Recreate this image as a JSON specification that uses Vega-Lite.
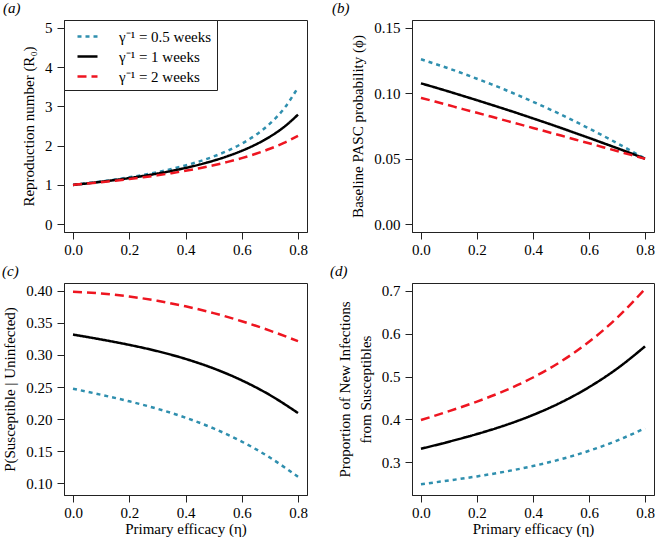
{
  "$schema": "https://vega.github.io/schema/vega-lite/v6.json",
  "padding": {"left": 1, "top": 0, "right": 0, "bottom": 0},
  "background": "white",
  "datasets": {
    "a": [
      {"eta":0,"gamma":"γ⁻¹ = 0.5 weeks","value":1.0},{"eta":0.05,"gamma":"γ⁻¹ = 0.5 weeks","value":1.0413},{"eta":0.1,"gamma":"γ⁻¹ = 0.5 weeks","value":1.0867},{"eta":0.15,"gamma":"γ⁻¹ = 0.5 weeks","value":1.1368},{"eta":0.2,"gamma":"γ⁻¹ = 0.5 weeks","value":1.1923},{"eta":0.25,"gamma":"γ⁻¹ = 0.5 weeks","value":1.2544},{"eta":0.3,"gamma":"γ⁻¹ = 0.5 weeks","value":1.3243},{"eta":0.35,"gamma":"γ⁻¹ = 0.5 weeks","value":1.4036},{"eta":0.4,"gamma":"γ⁻¹ = 0.5 weeks","value":1.495},{"eta":0.45,"gamma":"γ⁻¹ = 0.5 weeks","value":1.5997},{"eta":0.5,"gamma":"γ⁻¹ = 0.5 weeks","value":1.7233},{"eta":0.55,"gamma":"γ⁻¹ = 0.5 weeks","value":1.8705},{"eta":0.6,"gamma":"γ⁻¹ = 0.5 weeks","value":2.05},{"eta":0.65,"gamma":"γ⁻¹ = 0.5 weeks","value":2.2723},{"eta":0.7,"gamma":"γ⁻¹ = 0.5 weeks","value":2.56},{"eta":0.75,"gamma":"γ⁻¹ = 0.5 weeks","value":2.94},{"eta":0.8,"gamma":"γ⁻¹ = 0.5 weeks","value":3.48},
      {"eta":0,"gamma":"γ⁻¹ = 1 weeks","value":1.0},{"eta":0.05,"gamma":"γ⁻¹ = 1 weeks","value":1.0377},{"eta":0.1,"gamma":"γ⁻¹ = 1 weeks","value":1.0787},{"eta":0.15,"gamma":"γ⁻¹ = 1 weeks","value":1.1236},{"eta":0.2,"gamma":"γ⁻¹ = 1 weeks","value":1.1729},{"eta":0.25,"gamma":"γ⁻¹ = 1 weeks","value":1.2273},{"eta":0.3,"gamma":"γ⁻¹ = 1 weeks","value":1.2878},{"eta":0.35,"gamma":"γ⁻¹ = 1 weeks","value":1.3554},{"eta":0.4,"gamma":"γ⁻¹ = 1 weeks","value":1.4316},{"eta":0.45,"gamma":"γ⁻¹ = 1 weeks","value":1.518},{"eta":0.5,"gamma":"γ⁻¹ = 1 weeks","value":1.617},{"eta":0.55,"gamma":"γ⁻¹ = 1 weeks","value":1.7325},{"eta":0.6,"gamma":"γ⁻¹ = 1 weeks","value":1.868},{"eta":0.65,"gamma":"γ⁻¹ = 1 weeks","value":2.0296},{"eta":0.7,"gamma":"γ⁻¹ = 1 weeks","value":2.227},{"eta":0.75,"gamma":"γ⁻¹ = 1 weeks","value":2.473},{"eta":0.8,"gamma":"γ⁻¹ = 1 weeks","value":2.79},
      {"eta":0,"gamma":"γ⁻¹ = 2 weeks","value":1.0},{"eta":0.05,"gamma":"γ⁻¹ = 2 weeks","value":1.033},{"eta":0.1,"gamma":"γ⁻¹ = 2 weeks","value":1.0686},{"eta":0.15,"gamma":"γ⁻¹ = 2 weeks","value":1.1071},{"eta":0.2,"gamma":"γ⁻¹ = 2 weeks","value":1.1489},{"eta":0.25,"gamma":"γ⁻¹ = 2 weeks","value":1.1944},{"eta":0.3,"gamma":"γ⁻¹ = 2 weeks","value":1.2441},{"eta":0.35,"gamma":"γ⁻¹ = 2 weeks","value":1.2988},{"eta":0.4,"gamma":"γ⁻¹ = 2 weeks","value":1.359},{"eta":0.45,"gamma":"γ⁻¹ = 2 weeks","value":1.4262},{"eta":0.5,"gamma":"γ⁻¹ = 2 weeks","value":1.5012},{"eta":0.55,"gamma":"γ⁻¹ = 2 weeks","value":1.5857},{"eta":0.6,"gamma":"γ⁻¹ = 2 weeks","value":1.682},{"eta":0.65,"gamma":"γ⁻¹ = 2 weeks","value":1.792},{"eta":0.7,"gamma":"γ⁻¹ = 2 weeks","value":1.92},{"eta":0.75,"gamma":"γ⁻¹ = 2 weeks","value":2.0702},{"eta":0.8,"gamma":"γ⁻¹ = 2 weeks","value":2.25}
    ],
    "b": [
      {"eta":0,"gamma":"γ⁻¹ = 0.5 weeks","value":0.126},{"eta":0.05,"gamma":"γ⁻¹ = 0.5 weeks","value":0.1225},{"eta":0.1,"gamma":"γ⁻¹ = 0.5 weeks","value":0.1189},{"eta":0.15,"gamma":"γ⁻¹ = 0.5 weeks","value":0.1151},{"eta":0.2,"gamma":"γ⁻¹ = 0.5 weeks","value":0.1111},{"eta":0.25,"gamma":"γ⁻¹ = 0.5 weeks","value":0.107},{"eta":0.3,"gamma":"γ⁻¹ = 0.5 weeks","value":0.1027},{"eta":0.35,"gamma":"γ⁻¹ = 0.5 weeks","value":0.0982},{"eta":0.4,"gamma":"γ⁻¹ = 0.5 weeks","value":0.0935},{"eta":0.45,"gamma":"γ⁻¹ = 0.5 weeks","value":0.0887},{"eta":0.5,"gamma":"γ⁻¹ = 0.5 weeks","value":0.0837},{"eta":0.55,"gamma":"γ⁻¹ = 0.5 weeks","value":0.0785},{"eta":0.6,"gamma":"γ⁻¹ = 0.5 weeks","value":0.0731},{"eta":0.65,"gamma":"γ⁻¹ = 0.5 weeks","value":0.0676},{"eta":0.7,"gamma":"γ⁻¹ = 0.5 weeks","value":0.0619},{"eta":0.75,"gamma":"γ⁻¹ = 0.5 weeks","value":0.056},{"eta":0.8,"gamma":"γ⁻¹ = 0.5 weeks","value":0.05},
      {"eta":0,"gamma":"γ⁻¹ = 1 weeks","value":0.1076},{"eta":0.05,"gamma":"γ⁻¹ = 1 weeks","value":0.1045},{"eta":0.1,"gamma":"γ⁻¹ = 1 weeks","value":0.1013},{"eta":0.15,"gamma":"γ⁻¹ = 1 weeks","value":0.098},{"eta":0.2,"gamma":"γ⁻¹ = 1 weeks","value":0.0947},{"eta":0.25,"gamma":"γ⁻¹ = 1 weeks","value":0.0913},{"eta":0.3,"gamma":"γ⁻¹ = 1 weeks","value":0.0879},{"eta":0.35,"gamma":"γ⁻¹ = 1 weeks","value":0.0844},{"eta":0.4,"gamma":"γ⁻¹ = 1 weeks","value":0.0808},{"eta":0.45,"gamma":"γ⁻¹ = 1 weeks","value":0.0772},{"eta":0.5,"gamma":"γ⁻¹ = 1 weeks","value":0.0735},{"eta":0.55,"gamma":"γ⁻¹ = 1 weeks","value":0.0697},{"eta":0.6,"gamma":"γ⁻¹ = 1 weeks","value":0.0659},{"eta":0.65,"gamma":"γ⁻¹ = 1 weeks","value":0.062},{"eta":0.7,"gamma":"γ⁻¹ = 1 weeks","value":0.0581},{"eta":0.75,"gamma":"γ⁻¹ = 1 weeks","value":0.0541},{"eta":0.8,"gamma":"γ⁻¹ = 1 weeks","value":0.05},
      {"eta":0,"gamma":"γ⁻¹ = 2 weeks","value":0.0965},{"eta":0.05,"gamma":"γ⁻¹ = 2 weeks","value":0.0937},{"eta":0.1,"gamma":"γ⁻¹ = 2 weeks","value":0.0908},{"eta":0.15,"gamma":"γ⁻¹ = 2 weeks","value":0.0879},{"eta":0.2,"gamma":"γ⁻¹ = 2 weeks","value":0.0851},{"eta":0.25,"gamma":"γ⁻¹ = 2 weeks","value":0.0822},{"eta":0.3,"gamma":"γ⁻¹ = 2 weeks","value":0.0793},{"eta":0.35,"gamma":"γ⁻¹ = 2 weeks","value":0.0764},{"eta":0.4,"gamma":"γ⁻¹ = 2 weeks","value":0.0735},{"eta":0.45,"gamma":"γ⁻¹ = 2 weeks","value":0.0706},{"eta":0.5,"gamma":"γ⁻¹ = 2 weeks","value":0.0677},{"eta":0.55,"gamma":"γ⁻¹ = 2 weeks","value":0.0647},{"eta":0.6,"gamma":"γ⁻¹ = 2 weeks","value":0.0618},{"eta":0.65,"gamma":"γ⁻¹ = 2 weeks","value":0.0588},{"eta":0.7,"gamma":"γ⁻¹ = 2 weeks","value":0.0559},{"eta":0.75,"gamma":"γ⁻¹ = 2 weeks","value":0.0529},{"eta":0.8,"gamma":"γ⁻¹ = 2 weeks","value":0.05}
    ],
    "c": [
      {"eta":0,"gamma":"γ⁻¹ = 0.5 weeks","value":0.2474},{"eta":0.1,"gamma":"γ⁻¹ = 0.5 weeks","value":0.238},{"eta":0.2,"gamma":"γ⁻¹ = 0.5 weeks","value":0.2278},{"eta":0.3,"gamma":"γ⁻¹ = 0.5 weeks","value":0.2162},{"eta":0.4,"gamma":"γ⁻¹ = 0.5 weeks","value":0.2024},{"eta":0.5,"gamma":"γ⁻¹ = 0.5 weeks","value":0.1856},{"eta":0.6,"gamma":"γ⁻¹ = 0.5 weeks","value":0.1652},{"eta":0.7,"gamma":"γ⁻¹ = 0.5 weeks","value":0.1403},{"eta":0.8,"gamma":"γ⁻¹ = 0.5 weeks","value":0.1103},
      {"eta":0,"gamma":"γ⁻¹ = 1 weeks","value":0.3317},{"eta":0.1,"gamma":"γ⁻¹ = 1 weeks","value":0.3241},{"eta":0.2,"gamma":"γ⁻¹ = 1 weeks","value":0.3157},{"eta":0.3,"gamma":"γ⁻¹ = 1 weeks","value":0.3059},{"eta":0.4,"gamma":"γ⁻¹ = 1 weeks","value":0.2939},{"eta":0.5,"gamma":"γ⁻¹ = 1 weeks","value":0.279},{"eta":0.6,"gamma":"γ⁻¹ = 1 weeks","value":0.2605},{"eta":0.7,"gamma":"γ⁻¹ = 1 weeks","value":0.2376},{"eta":0.8,"gamma":"γ⁻¹ = 1 weeks","value":0.2096},
      {"eta":0,"gamma":"γ⁻¹ = 2 weeks","value":0.3984},{"eta":0.1,"gamma":"γ⁻¹ = 2 weeks","value":0.3957},{"eta":0.2,"gamma":"γ⁻¹ = 2 weeks","value":0.391},{"eta":0.3,"gamma":"γ⁻¹ = 2 weeks","value":0.3843},{"eta":0.4,"gamma":"γ⁻¹ = 2 weeks","value":0.3757},{"eta":0.5,"gamma":"γ⁻¹ = 2 weeks","value":0.3651},{"eta":0.6,"gamma":"γ⁻¹ = 2 weeks","value":0.3525},{"eta":0.7,"gamma":"γ⁻¹ = 2 weeks","value":0.3379},{"eta":0.8,"gamma":"γ⁻¹ = 2 weeks","value":0.3214}
    ],
    "d": [
      {"eta":0,"gamma":"γ⁻¹ = 0.5 weeks","value":0.2481},{"eta":0.1,"gamma":"γ⁻¹ = 0.5 weeks","value":0.257},{"eta":0.2,"gamma":"γ⁻¹ = 0.5 weeks","value":0.2665},{"eta":0.3,"gamma":"γ⁻¹ = 0.5 weeks","value":0.2775},{"eta":0.4,"gamma":"γ⁻¹ = 0.5 weeks","value":0.2907},{"eta":0.5,"gamma":"γ⁻¹ = 0.5 weeks","value":0.3067},{"eta":0.6,"gamma":"γ⁻¹ = 0.5 weeks","value":0.3263},{"eta":0.7,"gamma":"γ⁻¹ = 0.5 weeks","value":0.3502},{"eta":0.8,"gamma":"γ⁻¹ = 0.5 weeks","value":0.3791},
      {"eta":0,"gamma":"γ⁻¹ = 1 weeks","value":0.331},{"eta":0.1,"gamma":"γ⁻¹ = 1 weeks","value":0.3476},{"eta":0.2,"gamma":"γ⁻¹ = 1 weeks","value":0.3655},{"eta":0.3,"gamma":"γ⁻¹ = 1 weeks","value":0.3859},{"eta":0.4,"gamma":"γ⁻¹ = 1 weeks","value":0.4101},{"eta":0.5,"gamma":"γ⁻¹ = 1 weeks","value":0.4394},{"eta":0.6,"gamma":"γ⁻¹ = 1 weeks","value":0.4751},{"eta":0.7,"gamma":"γ⁻¹ = 1 weeks","value":0.5183},{"eta":0.8,"gamma":"γ⁻¹ = 1 weeks","value":0.5705},
      {"eta":0,"gamma":"γ⁻¹ = 2 weeks","value":0.3984},{"eta":0.1,"gamma":"γ⁻¹ = 2 weeks","value":0.419},{"eta":0.2,"gamma":"γ⁻¹ = 2 weeks","value":0.4413},{"eta":0.3,"gamma":"γ⁻¹ = 2 weeks","value":0.467},{"eta":0.4,"gamma":"γ⁻¹ = 2 weeks","value":0.4977},{"eta":0.5,"gamma":"γ⁻¹ = 2 weeks","value":0.5352},{"eta":0.6,"gamma":"γ⁻¹ = 2 weeks","value":0.581},{"eta":0.7,"gamma":"γ⁻¹ = 2 weeks","value":0.637},{"eta":0.8,"gamma":"γ⁻¹ = 2 weeks","value":0.7047}
    ]
  },
  "columns": 2,
  "spacing": {"row": 5, "column": 21},
  "resolve": {
    "scale": {"color": "independent", "strokeDash": "independent", "x": "independent", "y": "independent"},
    "legend": {"color": "independent", "strokeDash": "independent"}
  },
  "concat": [
    {
      "width": 243, "height": 212,
      "title": {"text": "(a)", "dx": -61},
      "data": {"name": "a"},
      "mark": {"type": "line", "interpolate": "monotone", "strokeWidth": 2.5},
      "encoding": {
        "x": {"field": "eta", "type": "quantitative", "scale": {"domain": [-0.032, 0.832], "nice": false, "zero": false}, "axis": {"values": [0, 0.2, 0.4, 0.6, 0.8], "format": ".1f", "title": null}},
        "y": {"field": "value", "type": "quantitative", "scale": {"domain": [-0.2, 5.2], "nice": false, "zero": false}, "axis": {"values": [0, 1, 2, 3, 4, 5], "format": "d", "title": "Reproduction number (R₀)"}},
        "color": {"field": "gamma", "type": "nominal", "scale": {"domain": ["γ⁻¹ = 0.5 weeks", "γ⁻¹ = 1 weeks", "γ⁻¹ = 2 weeks"], "range": ["#2f8fae", "#000000", "#ee1520"]}, "legend": {"title": null}},
        "strokeDash": {"field": "gamma", "type": "nominal", "scale": {"domain": ["γ⁻¹ = 0.5 weeks", "γ⁻¹ = 1 weeks", "γ⁻¹ = 2 weeks"], "range": [[4, 4], [1, 0], [9, 5]]}, "legend": {"title": null}}
      }
    },
    {
      "width": 242, "height": 212,
      "title": {"text": "(b)", "dx": -80},
      "data": {"name": "b"},
      "mark": {"type": "line", "interpolate": "monotone", "strokeWidth": 2.5},
      "encoding": {
        "x": {"field": "eta", "type": "quantitative", "scale": {"domain": [-0.032, 0.832], "nice": false, "zero": false}, "axis": {"values": [0, 0.2, 0.4, 0.6, 0.8], "format": ".1f", "title": null}},
        "y": {"field": "value", "type": "quantitative", "scale": {"domain": [-0.006, 0.156], "nice": false, "zero": false}, "axis": {"values": [0, 0.05, 0.1, 0.15], "format": ".2f", "title": "Baseline PASC probability (ϕ)"}},
        "color": {"field": "gamma", "type": "nominal", "scale": {"domain": ["γ⁻¹ = 0.5 weeks", "γ⁻¹ = 1 weeks", "γ⁻¹ = 2 weeks"], "range": ["#2f8fae", "#000000", "#ee1520"]}, "legend": null},
        "strokeDash": {"field": "gamma", "type": "nominal", "scale": {"domain": ["γ⁻¹ = 0.5 weeks", "γ⁻¹ = 1 weeks", "γ⁻¹ = 2 weeks"], "range": [[4, 4], [1, 0], [9, 5]]}, "legend": null}
      }
    },
    {
      "width": 243, "height": 212,
      "title": {"text": "(c)", "dx": -62},
      "data": {"name": "c"},
      "mark": {"type": "line", "interpolate": "monotone", "strokeWidth": 2.5},
      "encoding": {
        "x": {"field": "eta", "type": "quantitative", "scale": {"domain": [-0.032, 0.832], "nice": false, "zero": false}, "axis": {"values": [0, 0.2, 0.4, 0.6, 0.8], "format": ".1f", "title": "Primary efficacy (η)"}},
        "y": {"field": "value", "type": "quantitative", "scale": {"domain": [0.082, 0.412], "nice": false, "zero": false}, "axis": {"values": [0.1, 0.15, 0.2, 0.25, 0.3, 0.35, 0.4], "format": ".2f", "title": "P(Susceptible | Uninfected)"}},
        "color": {"field": "gamma", "type": "nominal", "scale": {"domain": ["γ⁻¹ = 0.5 weeks", "γ⁻¹ = 1 weeks", "γ⁻¹ = 2 weeks"], "range": ["#2f8fae", "#000000", "#ee1520"]}, "legend": null},
        "strokeDash": {"field": "gamma", "type": "nominal", "scale": {"domain": ["γ⁻¹ = 0.5 weeks", "γ⁻¹ = 1 weeks", "γ⁻¹ = 2 weeks"], "range": [[4, 4], [1, 0], [9, 5]]}, "legend": null}
      }
    },
    {
      "width": 242, "height": 212,
      "title": {"text": "(d)", "dx": -82},
      "data": {"name": "d"},
      "mark": {"type": "line", "interpolate": "monotone", "strokeWidth": 2.5},
      "encoding": {
        "x": {"field": "eta", "type": "quantitative", "scale": {"domain": [-0.032, 0.832], "nice": false, "zero": false}, "axis": {"values": [0, 0.2, 0.4, 0.6, 0.8], "format": ".1f", "title": "Primary efficacy (η)"}},
        "y": {"field": "value", "type": "quantitative", "scale": {"domain": [0.223, 0.7186], "nice": false, "zero": false}, "axis": {"values": [0.3, 0.4, 0.5, 0.6, 0.7], "format": ".1f", "title": ["Proportion of New Infections", "from Susceptibles"], "titleLineHeight": 21}},
        "color": {"field": "gamma", "type": "nominal", "scale": {"domain": ["γ⁻¹ = 0.5 weeks", "γ⁻¹ = 1 weeks", "γ⁻¹ = 2 weeks"], "range": ["#2f8fae", "#000000", "#ee1520"]}, "legend": null},
        "strokeDash": {"field": "gamma", "type": "nominal", "scale": {"domain": ["γ⁻¹ = 0.5 weeks", "γ⁻¹ = 1 weeks", "γ⁻¹ = 2 weeks"], "range": [[4, 4], [1, 0], [9, 5]]}, "legend": null}
      }
    }
  ],
  "config": {
    "font": "Liberation Serif",
    "view": {"stroke": "#222222", "strokeWidth": 1},
    "axis": {"grid": false, "domainColor": "#222222", "tickColor": "#222222", "labelColor": "#000000", "titleColor": "#000000", "labelFont": "Liberation Serif", "titleFont": "Liberation Serif", "labelFontSize": 15, "titleFontSize": 15, "titleFontWeight": "normal", "tickSize": 7, "labelPadding": 3, "titlePadding": 8, "labelOverlap": false, "labelFlush": false},
    "axisY": {"labelAngle": 0, "labelPadding": 5},
    "axisX": {"titlePadding": 1},
    "legend": {"orient": "top-left", "offset": 0, "strokeColor": "#222222", "fillColor": "white", "padding": 5, "symbolOffset": 7, "symbolType": "stroke", "symbolSize": 400, "symbolStrokeWidth": 2.5, "labelFont": "Liberation Serif", "labelFontSize": 15, "labelColor": "#000000", "rowPadding": 0, "labelOffset": 20},
    "title": {"anchor": "start", "frame": "group", "offset": 0, "font": "Liberation Serif", "fontSize": 15, "fontStyle": "italic", "fontWeight": "normal", "color": "#000000"}
  }
}
